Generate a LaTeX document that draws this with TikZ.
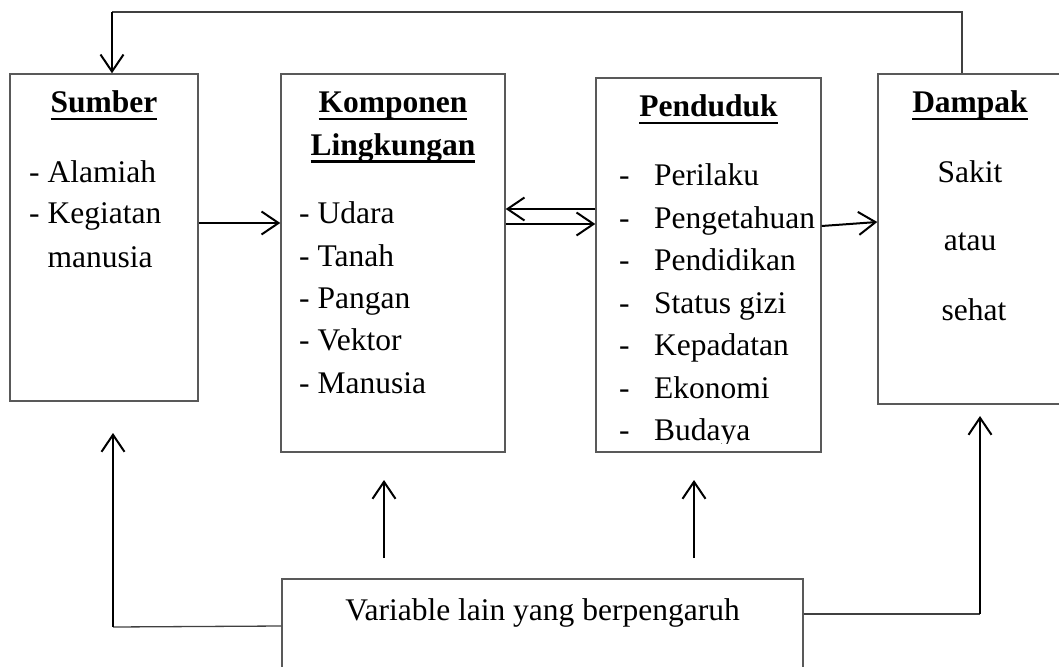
\documentclass[tikz,border=0pt]{standalone}
\usepackage{fontspec}
\setmainfont{Liberation Serif}
\usetikzlibrary{arrows.meta}
\newcommand{\ulbf}[1]{\setbox0\hbox{\bfseries #1}\rlap{\rule[-7.5pt]{\wd0}{2.6pt}}\box0}
\begin{document}
\begin{tikzpicture}[x=1pt,y=-1pt,
 box/.style={draw=black!65, line width=1.4pt, inner sep=0pt},
 txt/.style={inner sep=0pt, font=\fontsize{31.5}{42}\selectfont},
 lft/.style={txt, anchor=base west},
 ctr/.style={txt, anchor=base},
 arr/.style={line width=2pt, -{Straight Barb[length=17pt,width=23pt,line width=2pt]}},
 thinln/.style={draw=black!75, line width=1.3pt}]
\useasboundingbox (0,0) rectangle (1059,666);

% boxes
\node[box, minimum width=188pt, minimum height=327pt] (sumber) at (104,237.5) {};
\node[box, minimum width=224pt, minimum height=378pt] (komponen) at (393,263) {};
\node[box, minimum width=225pt, minimum height=374pt] (penduduk) at (708.5,265) {};
\node[box, minimum width=202pt, minimum height=330pt] (dampak) at (979,239) {};
\node[box, minimum width=521pt, minimum height=121pt] (variable) at (542.5,639.5) {};

% Sumber text
\node[ctr] (t-sumber) at (104,113) {\ulbf{Sumber}};
\node[lft] (s1) at (29,182) {- Alamiah};
\node[lft] (s2) at (29,223) {- Kegiatan};
\node[lft] (s3) at (47.5,267) {manusia};

% Komponen text
\node[ctr] (t-komp1) at (393,113) {\ulbf{Komponen}};
\node[ctr] (t-komp2) at (393,155) {\ulbf{Lingkungan}};
\node[lft] (k1) at (299,223) {- Udara};
\node[lft] (k2) at (299,266) {- Tanah};
\node[lft] (k3) at (299,308) {- Pangan};
\node[lft] (k4) at (299,350) {- Vektor};
\node[lft] (k5) at (299,393) {- Manusia};

% Penduduk text
\node[ctr] (t-pend) at (708.5,117) {\ulbf{Penduduk}};
\node[lft] (p1) at (619,185) {\makebox[35pt][l]{-}Perilaku};
\node[lft] (p2) at (619,228) {\makebox[35pt][l]{-}Pengetahuan};
\node[lft] (p3) at (619,270) {\makebox[35pt][l]{-}Pendidikan};
\node[lft] (p4) at (619,313) {\makebox[35pt][l]{-}Status gizi};
\node[lft] (p5) at (619,355) {\makebox[35pt][l]{-}Kepadatan};
\node[lft] (p6) at (619,398) {\makebox[35pt][l]{-}Ekonomi};
\begin{scope}
\clip (0,0) rectangle (1059,443);
\node[lft] (p7) at (619,440) {\makebox[35pt][l]{-}Budaya};
\end{scope}

% Dampak text
\node[ctr] (t-damp) at (970,113) {\ulbf{Dampak}};
\node[ctr] (d1) at (970,182) {Sakit};
\node[ctr] (d2) at (970,250) {atau};
\node[ctr] (d3) at (974,320) {sehat};

% Variable text
\node[ctr] (t-var) at (542.5,620) {Variable lain yang berpengaruh};

% connector coordinates
\coordinate (ya) at (0,223);
\coordinate (yb) at (0,209);
\coordinate (yc) at (0,224);
\coordinate (ypa) at (0,226);
\coordinate (ypb) at (0,222);
\coordinate (tl) at (112,12);
\coordinate (tr) at (962,12);
\coordinate (vl) at (0,626);
\coordinate (bl) at (113,627);
\coordinate (bla) at (113,433);
\coordinate (br) at (980,614);
\coordinate (bra) at (980,416);
\coordinate (u1) at (384,558);
\coordinate (u1t) at (384,480);
\coordinate (u2) at (694,558);
\coordinate (u2t) at (694,480);

% connectors
\draw[arr] (sumber.east |- ya) -- (komponen.west |- ya);
\draw[arr] (penduduk.west |- yb) -- (komponen.east |- yb);
\draw[arr] (komponen.east |- yc) -- (penduduk.west |- yc);
\draw[arr] (penduduk.east |- ypa) -- (dampak.west |- ypb);
\draw[thinln] (dampak.north -| tr) -- (tr) -- (tl);
\draw[arr] (tl) -- (sumber.north -| tl);
\draw[thinln] (variable.west |- vl) -- (bl);
\draw[arr] (bl) -- (bla);
\draw[thinln] (variable.east |- br) -- (br);
\draw[arr] (br) -- (bra);
\draw[arr] (u1) -- (u1t);
\draw[arr] (u2) -- (u2t);
\end{tikzpicture}
\end{document}
